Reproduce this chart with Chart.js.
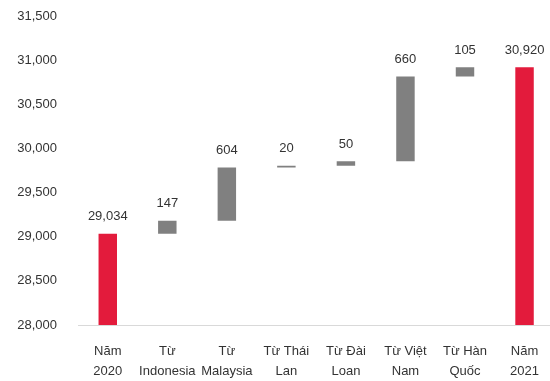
<!DOCTYPE html>
<html>
<head>
<meta charset="utf-8">
<script src="https://cdn.jsdelivr.net/npm/chart.js@4/dist/chart.umd.min.js"></script>
<style>
  html, body { margin: 0; padding: 0; background: #fff; overflow: hidden; width: 550px; height: 381px; }
  #wrap { width: 555px; height: 381px; position: relative; }
</style>
</head>
<body>
<div id="wrap"><canvas id="c"></canvas></div>
<script>
// Categories (two-line labels)
const categories = [
  ['Năm', '2020'], ['Từ', 'Indonesia'], ['Từ', 'Malaysia'], ['Từ Thái', 'Lan'],
  ['Từ Đài', 'Loan'], ['Từ Việt', 'Nam'], ['Từ Hàn', 'Quốc'], ['Năm', '2021']
];
// Values shown as labels above bars
const labelValues = [29034, 147, 604, 20, 50, 660, 105, 30920];
// Bar extents as drawn in the picture (floating bars)
const barLow  = [28000, 29034, 29181, 29785, 29805, 29855, 30815, 28000];
const barHigh = [29034, 29181, 29785, 29805, 29855, 30815, 30920, 30920];
// Y axis ticks
const yMin = 28000, yMax = 31500, yStep = 500;
const isTotal = [true, false, false, false, false, false, false, true];

const RED = '#E31B3C', GRAY = '#808080';
const fontFamily = '"Liberation Sans", Arial, sans-serif';

const barLabelPlugin = {
  id: 'barLabels',
  afterDatasetsDraw(chart) {
    const ctx = chart.ctx;
    const meta = chart.getDatasetMeta(0);
    ctx.save();
    ctx.font = '13px ' + fontFamily;
    ctx.fillStyle = '#333333';
    ctx.textAlign = 'center';
    ctx.textBaseline = 'middle';
    meta.data.forEach((bar, i) => {
      const top = Math.min(bar.y, bar.base);
      ctx.fillText(labelValues[i].toLocaleString('en-US'), bar.x, top - 17);
    });
    ctx.restore();
  }
};

new Chart(document.getElementById('c'), {
  type: 'bar',
  data: {
    labels: categories,
    datasets: [{
      data: barLow.map((lo, i) => [lo, barHigh[i]]),
      backgroundColor: isTotal.map(t => t ? RED : GRAY),
      borderWidth: 0,
      borderSkipped: false,
      barPercentage: 0.31,
      categoryPercentage: 1.0
    }]
  },
  options: {
    responsive: true,
    maintainAspectRatio: false,
    animation: false,
    layout: { padding: { top: 16, left: 0, right: 0, bottom: 0 } },
    plugins: { legend: { display: false }, tooltip: { enabled: false } },
    scales: {
      x: {
        grid: { display: false, drawTicks: false },
        border: { display: true, color: '#D9D9D9', width: 1 },
        ticks: {
          color: '#333333',
          padding: 16,
          maxRotation: 0,
          autoSkip: false,
          font: { family: fontFamily, size: 13, lineHeight: 20 / 13 }
        },
        afterFit(scale) { scale.height = 56; }
      },
      y: {
        min: yMin, max: yMax,
        grid: { display: false, drawTicks: false },
        border: { display: false },
        ticks: {
          stepSize: yStep,
          color: '#333333',
          padding: 21,
          font: { family: fontFamily, size: 13 },
          callback: v => Number(v).toLocaleString('en-US')
        },
        afterFit(scale) { scale.width = 78; scale.paddingTop = 0; scale.paddingBottom = 0; }
      }
    }
  },
  plugins: [barLabelPlugin]
});
</script>
</body>
</html>
